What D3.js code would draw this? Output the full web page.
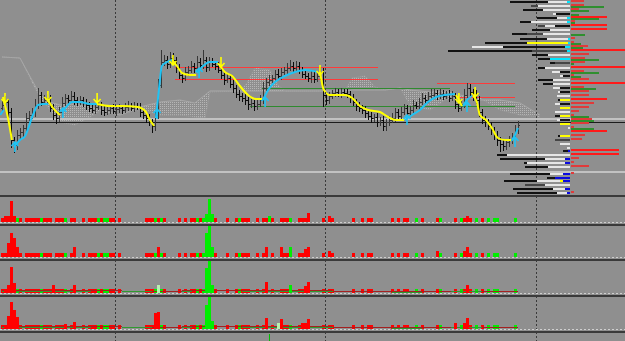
<!DOCTYPE html>
<html>
<head>
<meta charset="utf-8">
<script src="https://cdnjs.cloudflare.com/ajax/libs/d3/7.8.5/d3.min.js"></script>
<style>
body { margin: 0; background: #8f8f8f; }
svg { display: block; }
</style>
</head>
<body>
<div class="chart"></div>
<script>
// ---- data (price in points, bar index for time) ----
var closes = [
  90,93,83,55,50,60,63,67,77,80,83,90,100,93,95,97,87,80,77,83,
  92,97,95,99,95,93,95,92,90,87,85,88,90,85,83,85,87,84,86,87,
  85,88,89,87,89,88,83,80,77,73,69,80,110,133,135,131,137,135,127,120,
  117,123,125,129,127,133,130,135,128,133,131,129,125,120,115,117,111,107,101,99,
  97,95,91,92,89,91,95,107,113,115,117,121,119,123,125,127,129,127,129,125,
  121,119,117,119,116,119,123,100,95,99,102,103,101,103,102,101,97,93,89,87,
  85,82,79,77,78,73,75,69,73,75,77,83,79,83,87,82,85,90,89,93,
  97,95,99,100,102,99,101,99,101,97,99,91,87,91,100,107,103,99,95,83,
  75,73,69,65,60,55,51,49,53,55,59,65,70
];
var hiExt = [
  4,6,3,4,3,5,4,3,5,4,4,6,7,3,5,4,3,4,3,5,
  6,4,3,5,4,3,4,3,4,3,5,3,4,3,4,5,3,4,3,4,
  3,4,5,3,4,3,4,3,3,4,3,5,6,12,5,4,6,5,3,4,
  3,5,4,5,3,6,4,10,3,5,4,3,4,5,3,4,3,4,3,4,
  3,4,3,4,3,4,5,6,4,5,3,4,5,4,3,5,6,4,5,4,
  3,4,3,5,4,4,5,4,3,4,3,4,3,4,3,4,3,4,3,4,
  3,4,3,4,3,4,3,4,3,4,5,4,3,5,4,3,4,5,3,4,
  5,3,4,6,4,3,5,4,3,4,5,3,4,5,6,5,4,3,6,4,
  3,4,3,4,3,4,3,4,3,4,3,5,4
];
var loExt = [
  5,4,6,8,8,5,4,5,4,3,4,5,4,4,3,5,4,5,6,4,
  4,3,4,3,5,4,3,4,5,4,3,4,3,5,4,3,4,3,5,4,
  4,3,4,3,4,3,5,4,5,4,7,5,4,3,4,5,4,3,5,4,
  5,3,4,3,5,4,3,4,5,4,3,4,3,4,5,3,4,5,4,5,
  4,5,6,4,5,4,3,4,3,4,3,4,3,4,3,4,3,4,3,4,
  4,3,4,5,4,3,4,12,5,4,3,4,3,4,3,4,5,4,5,4,
  4,5,4,5,4,5,4,5,5,4,3,4,5,4,3,4,3,4,3,4,
  3,4,3,4,3,4,3,4,3,4,3,5,4,3,4,3,4,5,4,5,
  4,5,4,5,5,6,8,5,4,5,4,3,4
];

// trend line pieces [bar index, price]
var trendUp = [
  [[-0.6,80],[0.6,85]],
  [[4,48],[6,55],[7.7,59],[10.3,80],[12,90],[14,91],[15.3,91]],
  [[20,83],[21.7,89],[23.3,93],[26,93],[29.3,91],[31.7,91]],
  [[51.3,77],[52.3,105],[53.3,129],[55,133],[56.7,135]],
  [[65,122],[67,129],[69.3,133],[72,133]],
  [[87,95],[88.7,105],[91,113],[94.3,119],[97.7,123],[101,125],[105.3,123]],
  [[134.3,75],[136.7,80],[139.3,85],[142,93],[144.7,98],[147.7,100],[151,101]],
  [[153.7,89],[155,95],[156.7,99]],
  [[170,55],[171,60],[172,67]]
];
var trendDown = [
  [[0.3,98],[2,77],[3.3,55]],
  [[15.3,95],[17,87],[19.3,80]],
  [[31.7,91],[36,89],[40.3,89],[45.3,88],[48,83],[49.3,75],[50.7,69]],
  [[56.7,135],[58.3,129],[60,122],[62.7,120],[64.7,120]],
  [[72.3,131],[74.3,123],[76.7,119],[79.3,109],[82,100],[84.7,96],[86.7,96]],
  [[106,123],[107.3,105],[109.3,100],[114.3,100],[116.7,97],[119.3,89],[122,85],[126,83],[128.7,78],[131.3,75],[134,75]],
  [[151.3,100],[152.3,95],[153.3,89]],
  [[157,99],[158.3,93],[159.3,80],[161.3,75],[163.3,67],[165.3,57],[167.7,55],[169.7,55]]
];
var sellArrows = [[1,97],[15.3,99],[31.7,97],[57,135],[73,133],[106,125],[152.3,97],[157.7,103]];
var buyArrows = [[4.3,48],[20.3,82],[51.7,81],[65.7,122],[87.7,93],[135,75],[155,88],[171,53]];

// ichimoku style cloud
var cloudIdx = [0,6,12.7,16,19.3,24.3,29.3,32.7,39.3,46,52.7,59.3,64.3,67.7,69.3,79.3,81.7,84.3,89.3,92,94.3,114.3,116.7,121,124.3,127.7,132.7,136,142.7,147.7,152.7,159.3,166,172.7,179.3];
var spanA = [138,137,100,93,90,91,88,85,80,88,93,95,92,100,104,104,104,104,104,104,104,104,105,105,105,105,107,105,103,104,100,95,95,92,80];
var spanB = [138,137,97,85,73,70,78,84,80,86,80,80,78,77,103,104,112,127,125,110,104,104,117,119,108,105,107,90,85,95,97,97,85,80,78];

// horizontal levels [price, from bar, to bar, kind]
var levels = [
  [128,57.7,125.3,'r'],[116,57.7,125.3,'r'],[107,86.7,149.3,'g'],[89,82.7,171,'g'],
  [112,145,171,'r'],[98,152,171,'r']
];
var fullLevels = [[77,'light'],[73,'black'],[24,'light']];
var sessionBreaks = [37.67, 107.67, 178];

// volume profile rows: price, segments from axis outward [kind, len], sell len, buy len
var profPrice = [193,189,185,181,177,173,169,165,161,156,152,148,144,140,136,132,127,123,119,115,111,107,103,99,95,91,87,83,79,75,71,67,63,59,55,51,47,44,40,36,32,28,21,17,14,10,6,2];
var profLeft = [
  [['c',3],['w',19],['k',38]],
  [['w',32],['d',7]],
  [['w',27],['k',20]],
  [['k',14],['w',3]],
  [['c',3],['w',10],['k',20]],
  [['c',3],['w',36],['k',11]],
  [['k',15],['w',10],['d',7]],
  [['w',20],['k',18]],
  [['w',27],['d',16],['k',15]],
  [['c',2],['w',21],['k',27]],
  [['c',2],['y',41],['k',42]],
  [['c',5],['k',62],['w',31]],
  [['c',3],['d',35],['k',84]],
  [['w',22],['k',16]],
  [['c',20],['k',12]],
  [['d',15],['k',5]],
  [['w',25],['k',7]],
  [['k',10],['w',8]],
  [['k',7],['w',3]],
  [['w',17],['k',15]],
  [['w',17],['k',10]],
  [['k',10],['w',7]],
  [['k',10],['w',2]],
  [['w',13]],
  [['y',10],['k',2]],
  [['k',10],['w',5]],
  [['y',10]],
  [['w',15]],
  [['y',10],['k',5]],
  [['k',10],['w',3]],
  [['y',10]],
  [['w',2]],
  [],
  [['y',10],['k',2]],
  [['d',15]],
  [['w',10]],
  [['w',3]],
  [['b',2],['k',5]],
  [['w',63],['k',10]],
  [['b',5],['w',20],['k',45]],
  [['b',5],['w',38],['k',3]],
  [['w',22],['k',23]],
  [['b',7],['w',13],['k',40]],
  [['b',15],['k',8]],
  [['b',7],['y',3],['w',23],['k',33]],
  [['w',25],['d',20]],
  [['b',5],['w',12],['k',40]],
  [['b',3],['w',10],['k',40]]
];
var profSell = [13,13,8,0,36,4,36,36,0,4,3,17,54,18,14,14,54,13,3,18,54,13,18,18,36,23,18,8,3,21,18,3,36,14,11,0,0,48,48,8,3,18,3,0,0,0,0,3];
var profBuy = [0,33,18,8,28,4,0,0,14,0,10,12,0,0,28,3,0,28,10,0,0,25,0,0,0,0,0,0,18,23,0,23,0,0,0,0,0,0,0,0,0,0,0,0,0,0,0,0];

// volume panels: small blocks (+ sell, - buy) shared, then spikes per panel [bar, height, kind]
var volSmall = [
  4,4,4,4,4,-4,4,0,4,4,4,4,4,-4,4,4,4,0,4,4,
  4,-4,0,4,4,0,0,4,0,4,4,4,-4,4,-4,-4,4,4,0,4,
  0,0,0,0,0,0,0,0,4,4,4,-4,4,-4,4,0,0,0,0,4,
  0,4,0,4,4,-4,4,-4,4,0,0,4,0,0,0,4,0,0,4,-4,
  4,4,4,0,0,4,0,4,4,0,4,0,0,4,4,4,-4,0,0,4,
  4,4,4,0,0,0,0,4,0,4,4,0,0,0,0,0,0,4,0,0,
  4,0,4,4,0,0,0,0,0,0,4,0,4,0,4,4,0,0,-4,0,
  4,0,0,0,0,4,-4,0,0,0,0,4,0,-4,4,4,4,0,-4,0,
  4,0,-4,0,-4,-4,0,0,0,0,0,-4,0
];
var volSpikes = [
  [[1,6,'s'],[2,6,'s'],[3,21,'s'],[4,6,'s'],[68,8,'b'],[69,23,'b'],[70,8,'b'],[89,6,'b'],[101,4,'s'],[102,9,'s'],[109,6,'s'],[154,4,'s'],[155,6,'s'],[156,4,'s']],
  [[1,4,'s'],[2,14,'s'],[3,24,'s'],[4,19,'s'],[5,10,'s'],[24,10,'s'],[52,10,'s'],[68,24,'b'],[69,31,'b'],[70,10,'b'],[88,10,'s'],[93,10,'s'],[96,10,'b'],[101,8,'s'],[102,10,'s'],[109,6,'s'],[145,6,'s'],[154,6,'s'],[155,10,'s']],
  [[1,4,'s'],[2,8,'s'],[3,26,'s'],[4,10,'s'],[17,8,'s'],[24,8,'s'],[52,8,'p'],[68,25,'b'],[69,32,'b'],[70,8,'b'],[88,11,'s'],[96,8,'b'],[101,7,'s'],[102,11,'s'],[145,4,'s'],[155,8,'s']],
  [[1,4,'s'],[2,13,'s'],[3,27,'s'],[4,19,'s'],[5,12,'s'],[21,5,'s'],[24,7,'s'],[51,16,'s'],[52,17,'s'],[68,24,'b'],[69,32,'b'],[70,8,'b'],[88,11,'s'],[92,6,'p'],[93,10,'s'],[100,6,'s'],[101,6,'s'],[102,10,'s'],[151,6,'s'],[154,6,'s'],[155,11,'s']]
];
var avgIdx = [0,10,20,30,40,50,60,70,80,90,100,110,120,130,140,150,160,172];
var avgSell = [3,3,2.5,2.5,2,2,2,2.5,2.5,2.5,2.5,2,1.5,1.5,1.5,2,2,1.5];
var avgBuy = [1.5,1.5,1.5,2,2,1.5,1.5,3,2,2,2,1.5,1,1,1,1.5,1.5,1];

// ---- layout ----
var svgWidth = 625;
var svgHeight = 341;
var panels = [
  { top: 197, base: 222 },
  { top: 226, base: 257 },
  { top: 261, base: 293 },
  { top: 297, base: 329 }
];
var separators = [195, 224, 259, 295, 331];
var profileAxis = 570;

var svg = d3.select('.chart')
  .append('svg')
  .attr('width', svgWidth)
  .attr('height', svgHeight)
  .attr('shape-rendering', 'crispEdges');

svg.append('rect').attr('width', svgWidth).attr('height', svgHeight).attr('fill', '#8f8f8f');

// scales
var xScale = d3.scaleLinear().domain([0, 172]).range([2, 518]);
var yScale = d3.scaleLinear().domain([0, 195]).range([195, 0]);
var profScale = d3.scaleLinear().domain([0, 130]).range([0, 130]);

// dotted pattern for the cloud
var defs = svg.append('defs');
var pat = defs.append('pattern').attr('id', 'dots')
  .attr('width', 2).attr('height', 2).attr('patternUnits', 'userSpaceOnUse');
pat.append('rect').attr('width', 1).attr('height', 1).attr('fill', '#b6b6b6');

var main = svg.append('g');

// cloud
var cloudData = cloudIdx.map(function(d, i) { return { i: d, a: spanA[i], b: spanB[i] }; });
main.append('path')
  .datum(cloudData)
  .attr('fill', 'url(#dots)')
  .attr('d', d3.area()
    .x(function(d) { return xScale(d.i); })
    .y0(function(d) { return yScale(d.a); })
    .y1(function(d) { return yScale(d.b); }));
main.append('path')
  .datum(cloudData)
  .attr('fill', 'none').attr('stroke', '#a8a8a8').attr('shape-rendering', 'auto')
  .attr('d', d3.line().x(function(d) { return xScale(d.i); }).y(function(d) { return yScale(d.a); }));
main.append('path')
  .datum(cloudData)
  .attr('fill', 'none').attr('stroke', '#a3a3a3').attr('stroke-dasharray', '1,1').attr('shape-rendering', 'auto')
  .attr('d', d3.line().x(function(d) { return xScale(d.i); }).y(function(d) { return yScale(d.b); }));

// full width levels
fullLevels.forEach(function(l) {
  main.append('line')
    .attr('x1', 0).attr('x2', svgWidth)
    .attr('y1', Math.round(yScale(l[0])) + 0.5).attr('y2', Math.round(yScale(l[0])) + 0.5)
    .attr('stroke', l[1] === 'black' ? '#1c1c1c' : '#c2c2c2')
    .attr('stroke-width', l[1] === 'black' ? 1 : 2);
});

// colored levels
main.selectAll('.lvl')
  .data(levels)
  .enter()
  .append('line')
  .attr('x1', function(d) { return xScale(d[1]); })
  .attr('x2', function(d) { return xScale(d[2]); })
  .attr('y1', function(d) { return Math.round(yScale(d[0])) + 0.5; })
  .attr('y2', function(d) { return Math.round(yScale(d[0])) + 0.5; })
  .attr('stroke', function(d) { return d[3] === 'r' ? '#ff3a3a' : '#2f8a2f'; });

// session separators
sessionBreaks.forEach(function(b) {
  var xx = Math.round(xScale(b)) + 0.5;
  svg.append('line')
    .attr('x1', xx).attr('x2', xx).attr('y1', 0).attr('y2', svgHeight)
    .attr('stroke', '#3a3a3a').attr('stroke-dasharray', '2,2');
});

// price bars
var bars = closes.map(function(c, i) {
  var o = i > 0 ? closes[i - 1] : c - 3;
  return {
    i: i, o: o, c: c,
    h: Math.max(o, c) + (hiExt[i] || 3),
    l: Math.min(o, c) - (loExt[i] || 3)
  };
});
main.selectAll('.bar')
  .data(bars)
  .enter()
  .append('path')
  .attr('fill', 'none')
  .attr('stroke', function(d) { return d.c >= d.o ? '#383838' : '#0b0b0b'; })
  .attr('d', function(d) {
    var xx = Math.round(xScale(d.i)) + 0.5;
    var yo = Math.round(yScale(d.o)) + 0.5;
    var yc = Math.round(yScale(d.c)) + 0.5;
    return 'M' + xx + ',' + yScale(d.h) + 'V' + yScale(d.l) +
      'M' + (xx - 1.5) + ',' + yo + 'H' + xx +
      'M' + xx + ',' + yc + 'H' + (xx + 1.5);
  });

// trend line
var tLine = d3.line()
  .x(function(d) { return xScale(d[0]); })
  .y(function(d) { return yScale(d[1]); })
  .curve(d3.curveMonotoneX);
main.selectAll('.tup')
  .data(trendUp)
  .enter()
  .append('path')
  .attr('fill', 'none').attr('stroke', '#1fc3f4').attr('stroke-width', 2)
  .attr('shape-rendering', 'auto')
  .attr('d', tLine);
main.selectAll('.tdn')
  .data(trendDown)
  .enter()
  .append('path')
  .attr('fill', 'none').attr('stroke', '#ffff00').attr('stroke-width', 2)
  .attr('shape-rendering', 'auto')
  .attr('d', tLine);

// arrows
main.selectAll('.sell')
  .data(sellArrows)
  .enter()
  .append('path')
  .attr('fill', 'none').attr('stroke', '#ffff00').attr('stroke-width', 1.6)
  .attr('shape-rendering', 'auto')
  .attr('d', function(d) {
    var cx = xScale(d[0]), cy = yScale(d[1]);
    return 'M' + cx + ',' + (cy - 5) + 'V' + (cy + 5) +
      'M' + (cx - 3.5) + ',' + (cy + 1) + 'L' + cx + ',' + (cy + 5) + 'L' + (cx + 3.5) + ',' + (cy + 1);
  });
main.selectAll('.buy')
  .data(buyArrows)
  .enter()
  .append('path')
  .attr('fill', 'none').attr('stroke', '#1fc3f4').attr('stroke-width', 1.6)
  .attr('shape-rendering', 'auto')
  .attr('d', function(d) {
    var cx = xScale(d[0]), cy = yScale(d[1]);
    return 'M' + cx + ',' + (cy + 5) + 'V' + (cy - 5) +
      'M' + (cx - 3.5) + ',' + (cy - 1) + 'L' + cx + ',' + (cy - 5) + 'L' + (cx + 3.5) + ',' + (cy - 1);
  });

// volume profile on the right
var profColors = { k: '#121212', d: '#454545', w: '#e6e6e6', y: '#ffff00', c: '#00e5ff', b: '#0a0adf' };
var prof = svg.append('g');
profPrice.forEach(function(p, r) {
  var yy = Math.round(yScale(p)) - 1;
  var off = 0;
  profLeft[r].forEach(function(seg) {
    var len = profScale(seg[1]);
    prof.append('rect')
      .attr('x', profileAxis - off - len).attr('y', yy)
      .attr('width', len).attr('height', 2)
      .attr('fill', profColors[seg[0]]);
    off += len;
  });
  if (profSell[r] > 0) {
    prof.append('rect')
      .attr('x', profileAxis + 1).attr('y', yy - 1)
      .attr('width', profScale(profSell[r])).attr('height', 2)
      .attr('fill', profSell[r] > 30 ? '#ff1a1a' : '#e03a3a');
  }
  if (profBuy[r] > 0) {
    prof.append('rect')
      .attr('x', profileAxis + 1).attr('y', yy + 1)
      .attr('width', profScale(profBuy[r])).attr('height', 2)
      .attr('fill', '#2f8f2f');
  }
});

// panel separators
separators.forEach(function(s) {
  svg.append('rect').attr('x', 0).attr('y', s).attr('width', svgWidth).attr('height', 2).attr('fill', '#3a3a3a');
});

// volume panels
var volColors = { s: '#ff0000', b: '#00ee00', p: '#b8f0b0' };
panels.forEach(function(p, k) {
  var vy = d3.scaleLinear().domain([0, p.base - p.top]).range([p.base, p.top]);
  var g = svg.append('g');

  g.append('line')
    .attr('x1', 0).attr('x2', svgWidth)
    .attr('y1', p.base + 0.5).attr('y2', p.base + 0.5)
    .attr('stroke', '#cfcfcf').attr('stroke-dasharray', '2,2');

  g.selectAll('.vs')
    .data(volSmall.map(function(v, i) { return { i: i, v: v }; }).filter(function(d) { return d.v !== 0; }))
    .enter()
    .append('rect')
    .attr('x', function(d) { return Math.round(xScale(d.i)) - 1; })
    .attr('width', 3)
    .attr('y', function(d) { return vy(Math.abs(d.v)); })
    .attr('height', function(d) { return vy(0) - vy(Math.abs(d.v)); })
    .attr('fill', function(d) { return d.v > 0 ? volColors.s : volColors.b; });

  if (k >= 2) {
    var aLine = d3.line().x(function(d) { return xScale(d[0]); }).y(function(d) { return vy(d[1]); });
    g.append('path').datum(avgIdx.map(function(d, i) { return [d, avgBuy[i]]; }))
      .attr('fill', 'none').attr('stroke', '#2f9a2f').attr('d', aLine);
    g.append('path').datum(avgIdx.map(function(d, i) { return [d, avgSell[i]]; }))
      .attr('fill', 'none').attr('stroke', '#a52020').attr('d', aLine);
  }

  g.selectAll('.sp')
    .data(volSpikes[k])
    .enter()
    .append('rect')
    .attr('x', function(d) { return Math.round(xScale(d[0])) - 1; })
    .attr('width', 3)
    .attr('y', function(d) { return vy(d[1]); })
    .attr('height', function(d) { return vy(0) - vy(d[1]); })
    .attr('fill', function(d) { return volColors[d[2]]; });
});

// small green marker under the last panel
svg.append('line')
  .attr('x1', Math.round(xScale(89)) + 0.5).attr('x2', Math.round(xScale(89)) + 0.5)
  .attr('y1', 334).attr('y2', svgHeight)
  .attr('stroke', '#00c000');
</script>
</body>
</html>
